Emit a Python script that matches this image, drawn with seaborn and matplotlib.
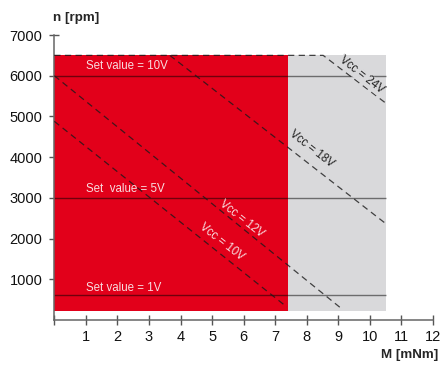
import numpy as np
import pandas as pd
import matplotlib
matplotlib.use("Agg")
import matplotlib.pyplot as plt
import seaborn as sns

## Data
# operating areas (torque range, speed range)
red_area_m = [0, 7.4]
grey_area_m = [7.4, 10.5]
area_n = [220, 6500]

# set value lines (n in rpm)
set_values = ["Set value = 10V", "Set  value = 5V", "Set value = 1V"]
set_n = [6000, 3000, 620]
set_m_end = 10.5

# Vcc characteristic lines (M in mNm, n in rpm)
vcc10_m = [0, 7.37]
vcc10_n = [4880, 320]
vcc12_m = [0, 9.07]
vcc12_n = [6000, 300]
vcc18_m = [3.66, 10.5]
vcc18_n = [6500, 2370]
vcc24_m = [0, 8.52, 10.5]
vcc24_n = [6500, 6500, 5330]

x_ticks = list(range(0, 13))
y_ticks = [1000, 2000, 3000, 4000, 5000, 6000, 7000]

red = "#e2001a"
grey = "#d9d9db"

sns.set_style("ticks")
plt.rcParams['font.family'] = ['Liberation Sans', 'DejaVu Sans']

fig = plt.figure(figsize=(4.4, 3.67), dpi=100)
ax = fig.add_axes([0.1234, 0.128, 0.8606, 0.7766])

# areas
ax.fill_between(red_area_m, area_n[0], area_n[1], color=red, lw=0, zorder=1)
ax.fill_between(grey_area_m, area_n[0], area_n[1], color=grey, lw=0, zorder=1)

# set value lines
ax.hlines(set_n, 0, set_m_end, colors="black", alpha=0.5, lw=1.0, zorder=2)

# Vcc lines
dash = (0, (5, 3.5))
for m, n in [(vcc10_m, vcc10_n), (vcc12_m, vcc12_n), (vcc18_m, vcc18_n), (vcc24_m, vcc24_n)]:
    sns.lineplot(x=m, y=n, ax=ax, sort=False, color="#1a1a1a", alpha=0.8,
                 lw=0.9, linestyle=dash, zorder=3)

# labels on the chart
txt_col = "#f8dde0"
for lab, n, dn in zip(set_values, set_n, [230, 215, 170]):
    ax.text(1.02, n + dn, lab, color=txt_col, fontsize=8.3, ha="left", va="center", zorder=4)

ax.text(5.93, 2490, "Vcc = 12V", color=txt_col, fontsize=8.3, rotation=-38,
        ha="center", va="center", rotation_mode="anchor", zorder=4)
ax.text(5.30, 1915, "Vcc = 10V", color=txt_col, fontsize=8.3, rotation=-38,
        ha="center", va="center", rotation_mode="anchor", zorder=4)
ax.text(8.16, 4210, "Vcc = 18V", color="#222222", fontsize=8.3, rotation=-38,
        ha="center", va="center", rotation_mode="anchor", zorder=4)
ax.text(9.74, 6010, "Vcc = 24V", color="#222222", fontsize=8.3, rotation=-38,
        ha="center", va="center", rotation_mode="anchor", zorder=4,
        bbox=dict(facecolor=grey, edgecolor="none", pad=0.5))

ax.set_xlim(0, 12)
ax.set_ylim(0, 7000)
ax.set_xticks(x_ticks)
ax.set_xticklabels([""] + [str(t) for t in x_ticks[1:]])
ax.set_yticks(y_ticks)
ax.set_xlabel("")
ax.set_ylabel("")
ax.tick_params(direction="inout", length=7, width=1, color="#555555",
               labelsize=10.5, labelcolor="#111111")
ax.tick_params(axis="y", pad=5)
ax.tick_params(axis="x", pad=4)
sns.despine(ax=ax)
for s in ["left", "bottom"]:
    ax.spines[s].set_color("#666666")
    ax.spines[s].set_linewidth(1.1)

fig.text(53 / 440, 1 - 18 / 367, "n [rpm]", fontsize=9.6, fontweight="bold",
         ha="left", va="center")
fig.text(438 / 440, 1 - 355 / 367, "M [mNm]", fontsize=9.6, fontweight="bold",
         ha="right", va="center")

plt.savefig("out.png", dpi=100)
